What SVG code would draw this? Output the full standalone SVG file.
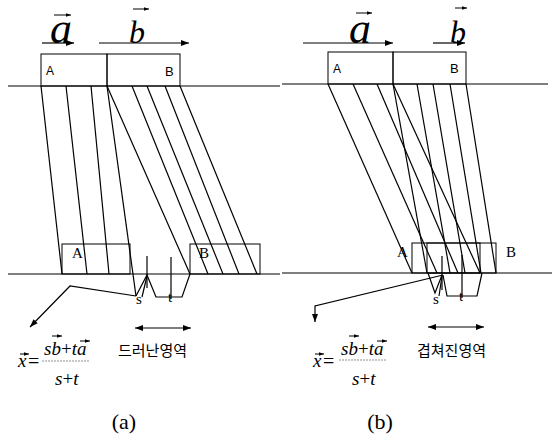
<svg xmlns="http://www.w3.org/2000/svg" width="557" height="441" viewBox="0 0 557 441">
<defs>
<marker id="ah" viewBox="0 0 8 6" refX="8" refY="3" markerWidth="8" markerHeight="6" markerUnits="userSpaceOnUse" orient="auto-start-reverse"><path d="M0,0 L8,3 L0,6 z" fill="#000"/></marker>
<marker id="ahs" viewBox="0 0 6 4" refX="6" refY="2" markerWidth="5" markerHeight="4" markerUnits="userSpaceOnUse" orient="auto"><path d="M0,0 L6,2 L0,4 z" fill="#000"/></marker>
</defs>
<style>
.ln{stroke:#000;stroke-width:1.2;fill:none}
.bx{stroke:#000;stroke-width:1;fill:none}
.ar{stroke:#000;stroke-width:1.2;fill:none;marker-end:url(#ah)}
.da{stroke:#000;stroke-width:1.2;fill:none;marker-end:url(#ah);marker-start:url(#ah)}
.vs{stroke:#000;stroke-width:1;fill:none;marker-end:url(#ahs)}
.fr{stroke:#777;stroke-width:0.8;stroke-dasharray:2 1}
.vec{font-family:"Liberation Serif",serif;font-style:italic;fill:#000}
.math{font-family:"Liberation Serif",serif;font-style:italic;font-size:19px;fill:#000}
.up{font-family:"Liberation Serif",serif;font-size:20px;fill:#000}
.lbs{font-family:"Liberation Sans",sans-serif;fill:#000}
.lbt{font-family:"Liberation Serif",serif;font-size:15px;fill:#000}
.kr{font-family:"Noto Sans CJK KR",sans-serif;font-size:15px;fill:#000}
.cap{font-family:"Liberation Serif",serif;font-size:22px;fill:#000}
</style>

<g id="ground-lines">
<line class="ln" x1="8" y1="86" x2="280" y2="86"/>
<line class="ln" x1="8" y1="274" x2="280" y2="274"/>
<line class="ln" x1="282" y1="84" x2="548" y2="84"/>
<line class="ln" x1="282" y1="273" x2="552" y2="273"/>
</g>

<!-- panel (a) -->
<g id="a-vec-a">
<text class="vec" x="50" y="43" font-size="44">a</text>
<line class="vs" x1="54" y1="15" x2="71" y2="15"/>
<line class="ar" x1="42" y1="43" x2="74" y2="43"/>
</g>
<g id="a-vec-b">
<text class="vec" x="129" y="43" font-size="32">b</text>
<line class="vs" x1="133" y1="9" x2="149" y2="9"/>
<line class="ar" x1="99" y1="43" x2="189" y2="43"/>
</g>
<g id="a-top-A"><rect class="bx" x="41" y="54" width="66" height="32"/><text class="lbs" x="46" y="75" font-size="12">A</text></g>
<g id="a-top-B"><rect class="bx" x="107" y="54" width="73" height="32"/><text class="lbs" x="165" y="76" font-size="13">B</text></g>
<g id="a-bot-A"><rect class="bx" x="62" y="244" width="68" height="30"/><text class="lbt" x="72" y="258">A</text></g>
<g id="a-bot-B"><rect class="bx" x="190" y="244" width="70" height="30"/><text class="lbt" x="199" y="258">B</text></g>

<!-- panel (b) -->
<g id="b-vec-a">
<text class="vec" x="349" y="43" font-size="44">a</text>
<line class="vs" x1="356" y1="13" x2="372" y2="13"/>
<line class="ar" x1="303" y1="43" x2="393" y2="43"/>
</g>
<g id="b-vec-b">
<text class="vec" x="450" y="43" font-size="32">b</text>
<line class="vs" x1="455" y1="8" x2="467" y2="8"/>
<line class="ar" x1="433" y1="43" x2="465" y2="43"/>
</g>
<g id="b-top-A"><rect class="bx" x="328" y="52" width="65" height="32"/><text class="lbs" x="333" y="73" font-size="12">A</text></g>
<g id="b-top-B"><rect class="bx" x="393" y="52" width="73" height="32"/><text class="lbs" x="450" y="73" font-size="13">B</text></g>
<g id="b-bot-A"><rect class="bx" x="412" y="243" width="68" height="30"/><text class="lbt" x="397" y="257">A</text></g>
<g id="b-bot-B"><rect class="bx" x="427" y="243" width="69" height="30"/><text class="lbt" x="506" y="257">B</text></g>

<g id="connectors">
<line class="ln" x1="41" y1="86" x2="62" y2="274"/>
<line class="ln" x1="66" y1="86" x2="87" y2="274"/>
<line class="ln" x1="91" y1="86" x2="109" y2="274"/>
<line class="ln" x1="107" y1="86" x2="136" y2="296"/>
<line class="ln" x1="107" y1="86" x2="190" y2="274"/>
<line class="ln" x1="132" y1="86" x2="208" y2="274"/>
<line class="ln" x1="147" y1="86" x2="223" y2="274"/>
<line class="ln" x1="165" y1="86" x2="239" y2="274"/>
<line class="ln" x1="180" y1="86" x2="257" y2="274"/>
<polyline class="ln" points="136,296 147,275 156,297 182,297 190,274"/>
<line class="ln" x1="142" y1="297" x2="147" y2="276"/>
<line class="ln" x1="147" y1="256" x2="147" y2="288"/>
<line class="ln" x1="171" y1="257" x2="171" y2="299"/>
<polyline class="ar" points="136,296 70,286 30,327"/>
<line class="da" x1="135" y1="328" x2="191" y2="328"/>

<line class="ln" x1="328" y1="84" x2="412" y2="273"/>
<line class="ln" x1="353" y1="84" x2="437" y2="273"/>
<line class="ln" x1="377" y1="84" x2="458" y2="273"/>
<line class="ln" x1="393" y1="84" x2="480" y2="273"/>
<line class="ln" x1="393" y1="84" x2="427" y2="273"/>
<line class="ln" x1="417" y1="84" x2="450" y2="273"/>
<line class="ln" x1="433" y1="84" x2="465" y2="273"/>
<line class="ln" x1="450" y1="84" x2="481" y2="273"/>
<line class="ln" x1="466" y1="84" x2="496" y2="273"/>
<polyline class="ln" points="428,273 435,293 442,275"/>
<line class="ln" x1="439" y1="296" x2="442" y2="276"/>
<polyline class="ln" points="443,275 447,296 477,296 482,273"/>
<line class="ln" x1="442" y1="256" x2="442" y2="290"/>
<line class="ln" x1="462" y1="255" x2="462" y2="298"/>
<polyline class="ar" points="443,275 315,306 315,322"/>
<line class="da" x1="428" y1="327" x2="484" y2="327"/>
</g>

<g id="a-labels">
<text class="lbt" x="136" y="304">s</text>
<text class="lbt" x="168" y="302">t</text>
<text class="kr" x="118" y="356">드러난영역</text>
<text class="math" x="18" y="367">x</text>
<line class="vs" x1="20" y1="354" x2="29" y2="354"/>
<text class="up" x="28" y="368">=</text>
<text class="math" x="44" y="355">sb<tspan font-style="normal">+</tspan>ta</text>
<line class="vs" x1="52" y1="336" x2="62" y2="336"/>
<line class="vs" x1="80" y1="341" x2="90" y2="341"/>
<line class="fr" x1="42" y1="361" x2="89" y2="361"/>
<text class="math" x="55" y="385">s<tspan font-style="normal">+</tspan>t</text>
<text class="cap" x="124" y="429" text-anchor="middle">(a)</text>
</g>

<g id="b-labels">
<text class="lbt" x="433" y="304">s</text>
<text class="lbt" x="459" y="301">t</text>
<text class="kr" x="417" y="356">겹쳐진영역</text>
<text class="math" x="313" y="367">x</text>
<line class="vs" x1="315" y1="354" x2="324" y2="354"/>
<text class="up" x="323" y="368">=</text>
<text class="math" x="341" y="355">sb<tspan font-style="normal">+</tspan>ta</text>
<line class="vs" x1="349" y1="336" x2="359" y2="336"/>
<line class="vs" x1="377" y1="341" x2="387" y2="341"/>
<line class="fr" x1="339" y1="360" x2="386" y2="360"/>
<text class="math" x="352" y="385">s<tspan font-style="normal">+</tspan>t</text>
<text class="cap" x="380" y="429" text-anchor="middle">(b)</text>
</g>
</svg>
